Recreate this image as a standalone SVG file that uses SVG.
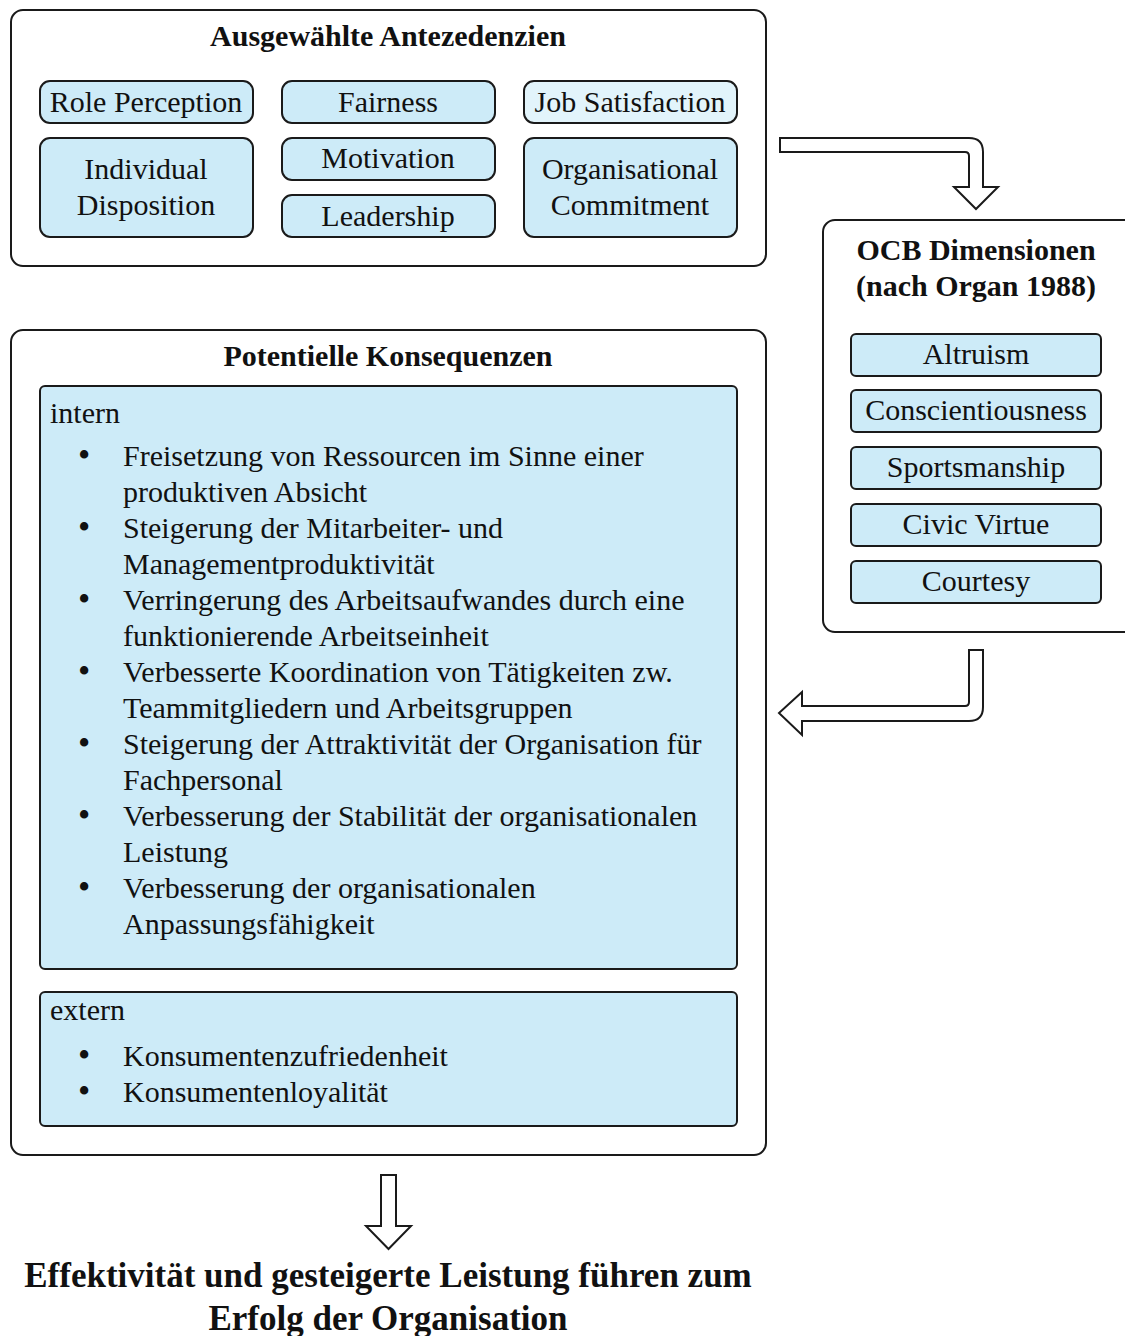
<svg xmlns="http://www.w3.org/2000/svg" width="1125" height="1336" viewBox="0 0 1125 1336">
<style>
.frame{fill:#fff;stroke:#1a1a1a;stroke-width:2}
.item{fill:#cdebf8;stroke:#1a1a1a;stroke-width:2}
.light{fill:#e2f4fb}
.arrow{fill:#fff;stroke:#1a1a1a;stroke-width:2;stroke-linejoin:miter}
text{font-family:"Liberation Serif","Times New Roman",serif;fill:#111}
.t{font-size:30px;text-anchor:middle}
.h{font-size:30px;font-weight:bold;text-anchor:middle}
.b{font-size:30px}
.d{font-size:35px}
.big{font-size:35px;font-weight:bold;text-anchor:middle}
</style>
<rect width="1125" height="1336" fill="#fff"/>
<g id="antezedenzien">
<rect class="frame" x="11" y="10" width="755" height="256" rx="12"/>
<text class="h" x="388" y="46">Ausgewählte Antezedenzien</text>
</g>
<g id="role-perception"><rect class="item" x="40" y="81" width="213" height="42" rx="10"/><text class="t" x="146" y="112">Role Perception</text></g>
<g id="fairness"><rect class="item" x="282" y="81" width="213" height="42" rx="10"/><text class="t" x="388" y="112">Fairness</text></g>
<g id="job-satisfaction"><rect class="item light" x="524" y="81" width="213" height="42" rx="10"/><text class="t" x="630" y="112">Job Satisfaction</text></g>
<g id="individual-disposition"><rect class="item" x="40" y="138" width="213" height="99" rx="10"/><text class="t" x="146" y="179">Individual</text><text class="t" x="146" y="215">Disposition</text></g>
<g id="motivation"><rect class="item" x="282" y="138" width="213" height="42" rx="10"/><text class="t" x="388" y="168">Motivation</text></g>
<g id="leadership"><rect class="item" x="282" y="195" width="213" height="42" rx="10"/><text class="t" x="388" y="226">Leadership</text></g>
<g id="organisational-commitment"><rect class="item" x="524" y="138" width="213" height="99" rx="10"/><text class="t" x="630" y="179">Organisational</text><text class="t" x="630" y="215">Commitment</text></g>

<g id="ocb">
<rect class="frame" x="823" y="220" width="320" height="412" rx="12"/>
<text class="h" x="976" y="260">OCB Dimensionen</text>
<text class="h" x="976" y="296">(nach Organ 1988)</text>
</g>
<g id="altruism"><rect class="item" x="851" y="334" width="250" height="42" rx="5"/><text class="t" x="976" y="364">Altruism</text></g>
<g id="conscientiousness"><rect class="item" x="851" y="390" width="250" height="42" rx="5"/><text class="t" x="976" y="420">Conscientiousness</text></g>
<g id="sportsmanship"><rect class="item" x="851" y="447" width="250" height="42" rx="5"/><text class="t" x="976" y="477">Sportsmanship</text></g>
<g id="civic-virtue"><rect class="item" x="851" y="504" width="250" height="42" rx="5"/><text class="t" x="976" y="534">Civic Virtue</text></g>
<g id="courtesy"><rect class="item" x="851" y="561" width="250" height="42" rx="5"/><text class="t" x="976" y="591">Courtesy</text></g>

<g id="konsequenzen">
<rect class="frame" x="11" y="330" width="755" height="825" rx="12"/>
<text class="h" x="388" y="366">Potentielle Konsequenzen</text>
</g>
<g id="intern">
<rect class="item" x="40" y="386" width="697" height="583" rx="5"/>
<text class="b" x="50" y="423">intern</text>
<text class="d" x="78" y="467">•</text><text class="b" x="123" y="466">Freisetzung von Ressourcen im Sinne einer</text>
<text class="b" x="123" y="502">produktiven Absicht</text>
<text class="d" x="78" y="539">•</text><text class="b" x="123" y="538">Steigerung der Mitarbeiter- und</text>
<text class="b" x="123" y="574">Managementproduktivität</text>
<text class="d" x="78" y="611">•</text><text class="b" x="123" y="610">Verringerung des Arbeitsaufwandes durch eine</text>
<text class="b" x="123" y="646">funktionierende Arbeitseinheit</text>
<text class="d" x="78" y="683">•</text><text class="b" x="123" y="682">Verbesserte Koordination von Tätigkeiten zw.</text>
<text class="b" x="123" y="718">Teammitgliedern und Arbeitsgruppen</text>
<text class="d" x="78" y="755">•</text><text class="b" x="123" y="754">Steigerung der Attraktivität der Organisation für</text>
<text class="b" x="123" y="790">Fachpersonal</text>
<text class="d" x="78" y="827">•</text><text class="b" x="123" y="826">Verbesserung der Stabilität der organisationalen</text>
<text class="b" x="123" y="862">Leistung</text>
<text class="d" x="78" y="899">•</text><text class="b" x="123" y="898">Verbesserung der organisationalen</text>
<text class="b" x="123" y="934">Anpassungsfähigkeit</text>
</g>
<g id="extern">
<rect class="item" x="40" y="992" width="697" height="134" rx="5"/>
<text class="b" x="50" y="1020">extern</text>
<text class="d" x="78" y="1067">•</text><text class="b" x="123" y="1066">Konsumentenzufriedenheit</text>
<text class="d" x="78" y="1103">•</text><text class="b" x="123" y="1102">Konsumentenloyalität</text>
</g>

<g id="ergebnis">
<text class="big" x="388" y="1287">Effektivität und gesteigerte Leistung führen zum</text>
<text class="big" x="388" y="1330">Erfolg der Organisation</text>
</g>

<g id="connectors">
<path class="arrow" d="M780,138 H969 Q983,138 983,152 V187 H998 L976,209 L954,187 H969 V156 Q969,152 965,152 H780 Z"/>
<path class="arrow" d="M983,650 V707 Q983,721 969,721 H802 V735 L779,713 L802,692 V706 H965 Q969,706 969,702 V650 Z"/>
<path class="arrow" d="M381,1175 H396 V1226 H411 L388.5,1249 L366,1226 H381 Z"/>
</g>
</svg>
